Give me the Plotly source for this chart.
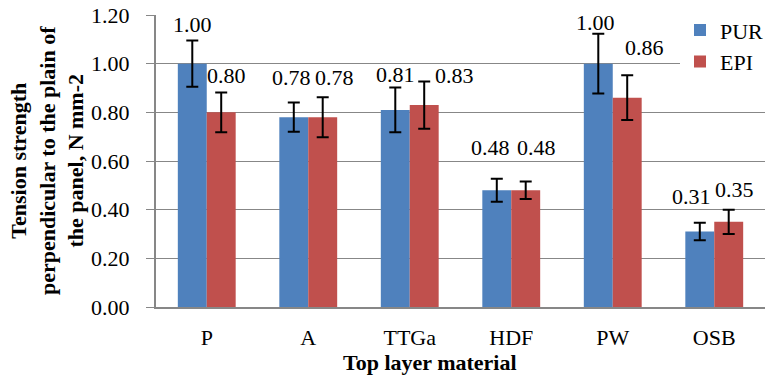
import plotly.graph_objects as go

categories = ["P", "A", "TTGa", "HDF", "PW", "OSB"]
pur_values = [1.00, 0.78, 0.81, 0.48, 1.00, 0.31]
epi_values = [0.80, 0.78, 0.83, 0.48, 0.86, 0.35]
pur_errors = [0.095, 0.060, 0.092, 0.047, 0.123, 0.036]
epi_errors = [0.082, 0.082, 0.097, 0.036, 0.092, 0.050]

# label nudges (pixels) relative to bar top / bar centre
pur_label_dx = [0, -2, 0, -6, -3, -8]
pur_label_dy = [39, 40, 35, 43, 41, 35]
epi_label_dx = [5, 12, 30, 11, 17, 6]
epi_label_dy = [37, 40, 30, 43, 50, 32]

FONT = "Liberation Serif, Times New Roman, serif"
BLUE = "#4F81BD"
RED = "#C0504D"
GRID = "#878787"

fig = go.Figure()
fig.add_trace(go.Bar(
    x=categories, y=pur_values, name="PUR", marker_color=BLUE,
    marker_line_width=0,
    error_y=dict(type="data", array=pur_errors, color="black", thickness=2, width=6),
))
fig.add_trace(go.Bar(
    x=categories, y=epi_values, name="EPI", marker_color=RED,
    marker_line_width=0,
    error_y=dict(type="data", array=epi_errors, color="black", thickness=2, width=6),
))

half_bar = 14.5
for i, c in enumerate(categories):
    fig.add_annotation(x=c, y=pur_values[i], text=f"{pur_values[i]:.2f}", showarrow=False,
                       xshift=-half_bar + pur_label_dx[i], yshift=pur_label_dy[i],
                       font=dict(family=FONT, size=22, color="black"))
    fig.add_annotation(x=c, y=epi_values[i], text=f"{epi_values[i]:.2f}", showarrow=False,
                       xshift=half_bar + epi_label_dx[i], yshift=epi_label_dy[i],
                       font=dict(family=FONT, size=22, color="black"))

fig.add_annotation(xref="paper", yref="paper", x=(47 - 156) / 609, y=0.5,
                   text="<b>Tension strength<br>perpendicular to the plain of<br>the panel, N mm-2</b>",
                   textangle=-90, showarrow=False, xanchor="center", yanchor="middle",
                   font=dict(family=FONT, size=22, color="black"))
fig.add_annotation(xref="paper", yref="paper", x=(430 - 156) / 609, y=-(363 - 307) / 292,
                   text="<b>Top layer material</b>", showarrow=False,
                   xanchor="center", yanchor="middle",
                   font=dict(family=FONT, size=22, color="black"))

fig.update_layout(
    width=765, height=381,
    margin=dict(l=156, r=0, t=15, b=74, autoexpand=False),
    paper_bgcolor="white", plot_bgcolor="white",
    barmode="group", bargap=0.43, bargroupgap=0,
    font=dict(family=FONT, size=22, color="black"),
    showlegend=True,
    legend=dict(x=(680 - 156) / 609, y=1.02, xanchor="left", yanchor="top",
                bgcolor="white", font=dict(family=FONT, size=22, color="black"),
                itemwidth=30, tracegroupgap=0),
)
fig.update_xaxes(showline=True, linecolor=GRID, linewidth=2, ticks="", automargin=False,
                 tickfont=dict(family=FONT, size=22, color="black"), ticklabelstandoff=10)
fig.update_yaxes(range=[0, 1.2], dtick=0.2, tickformat=".2f", showgrid=True, automargin=False,
                 gridcolor=GRID, gridwidth=1, showline=True, linecolor=GRID, linewidth=2,
                 ticks="outside", ticklen=8, tickcolor=GRID, zeroline=False,
                 tickfont=dict(family=FONT, size=22, color="black"), ticklabelstandoff=12)

fig.write_html("out.html", config={"displayModeBar": False},
               post_script="document.body.style.margin='0';document.body.style.padding='0';")
